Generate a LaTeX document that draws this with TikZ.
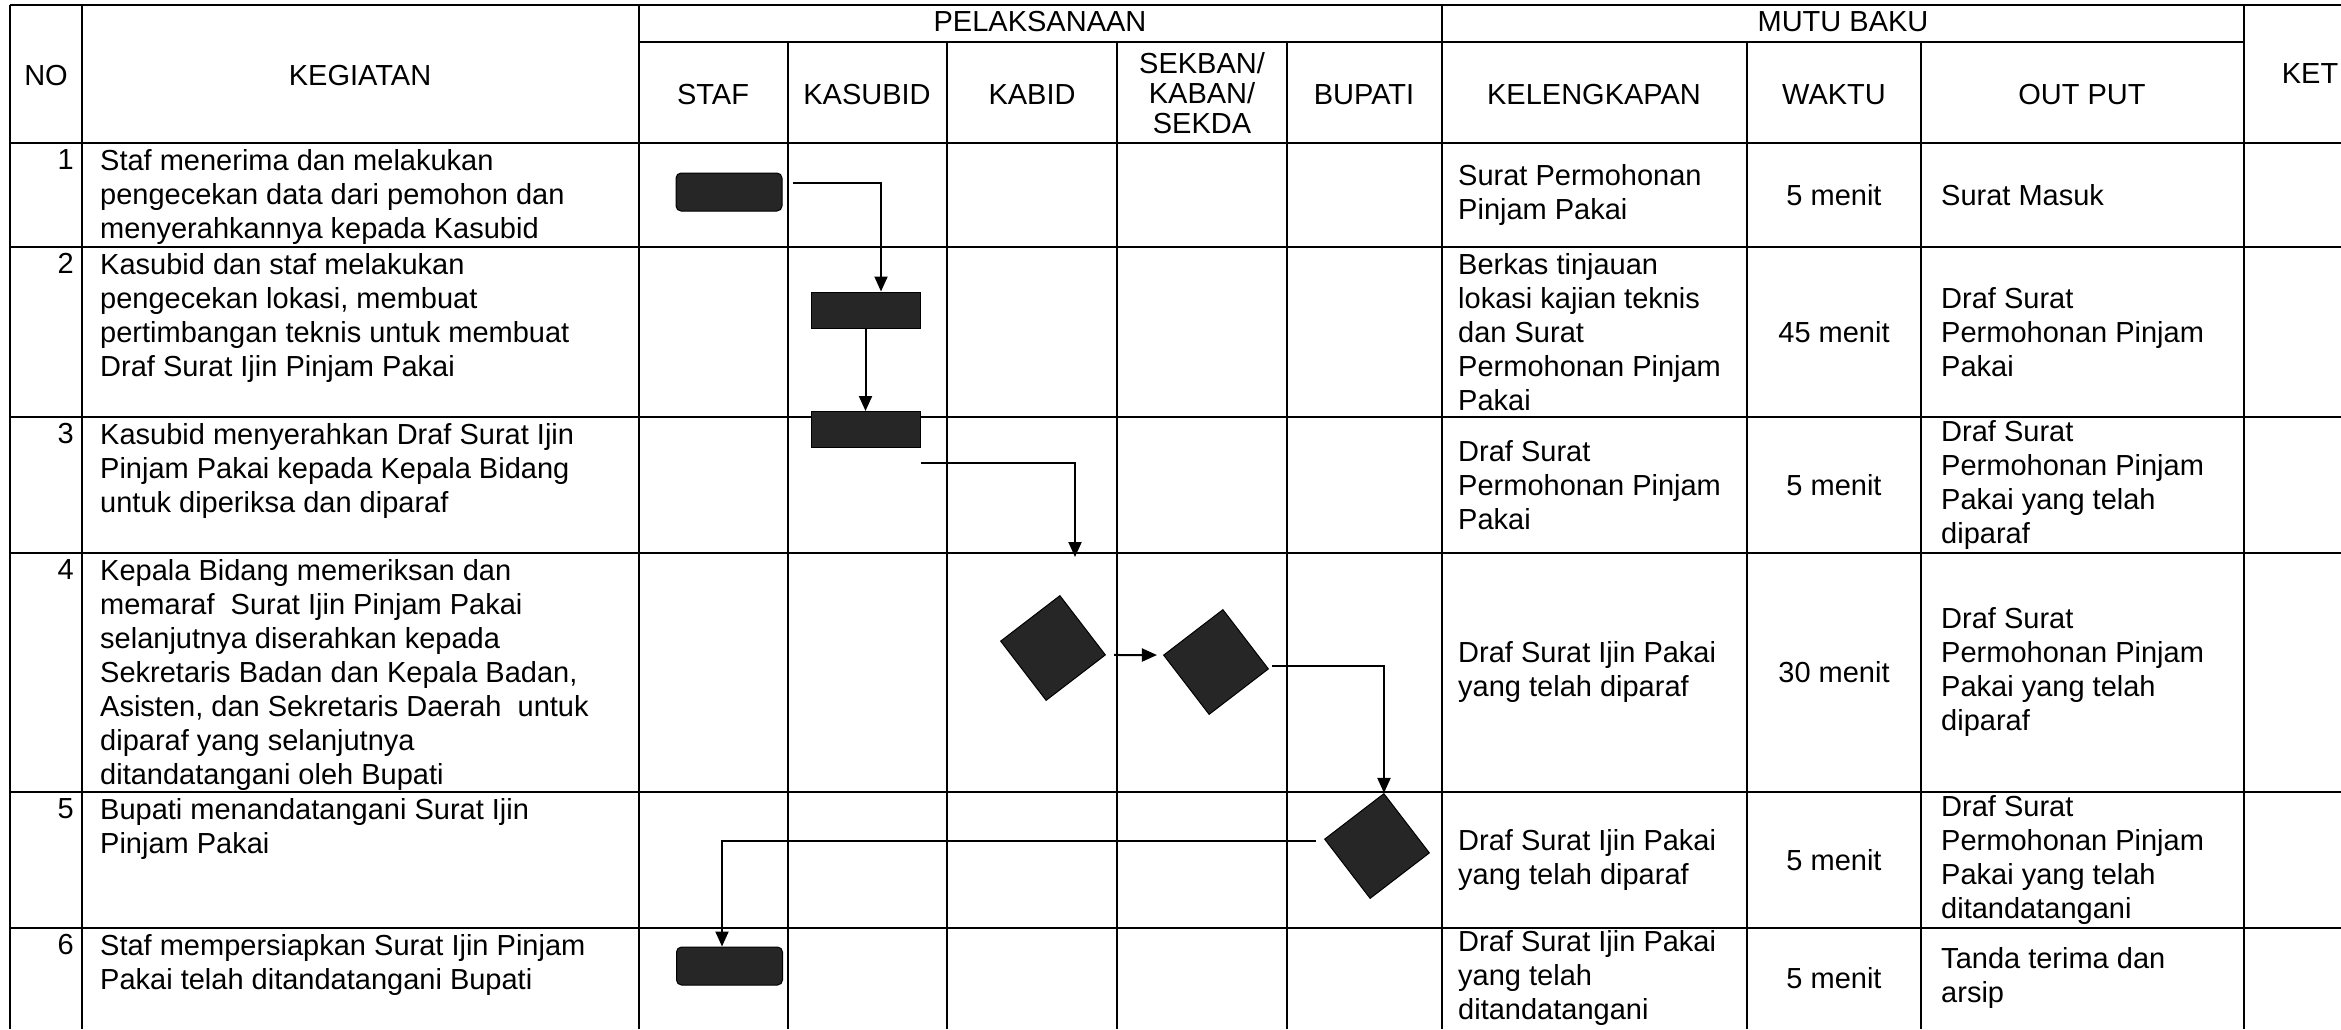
\documentclass[tikz,border=0pt]{standalone}
\usepackage{fontspec}
\setmainfont{Liberation Sans}
\usetikzlibrary{arrows.meta,shapes.geometric,calc}
\begin{document}
\begin{tikzpicture}[x=1pt,y=-1pt,
  hl/.style={line width=2.8pt},
  vl/.style={line width=2.1pt},
  txt/.style={inner sep=0pt,font=\fontsize{29}{34}\selectfont,align=left},
  ctxt/.style={inner sep=0pt,font=\fontsize{29}{34}\selectfont,align=center},
  rbox/.style={draw=black,fill=black!85,line width=1pt,minimum width=106pt,minimum height=38pt,rounded corners=5pt,inner sep=0pt},
  sbox/.style={draw=black,fill=black!85,line width=1pt,minimum width=109pt,minimum height=36pt,inner sep=0pt},
  dia/.style={draw=black,fill=black!85,line width=1pt,shape=diamond,aspect=1,minimum width=106pt,minimum height=106pt,inner sep=0pt,rotate=-7.5},
  arr/.style={line width=2pt,-{Triangle[length=15pt,width=13pt]}}]
\useasboundingbox (0,0) rectangle (2341,1029);
\fill[white] (0,0) rectangle (2341,1029);
% ---- grid ----
\draw[hl] (10,5) -- (2341,5);
\draw[hl] (639,42) -- (2244,42);
\foreach \y in {143,247,417,553,792,928} \draw[hl] (10,\y) -- (2341,\y);
\foreach \x in {10,82,639,1442,2244} \draw[vl] (\x,5) -- (\x,1029);
\foreach \x in {788,947,1117,1287,1747,1921} \draw[vl] (\x,42) -- (\x,1029);
% ---- header ----
\node[ctxt] (hno) at (46,76) {NO};
\node[ctxt] (hkeg) at (360,76) {KEGIATAN};
\node[ctxt] (hpel) at (1040,22) {PELAKSANAAN};
\node[ctxt] (hstaf) at (713,95) {STAF};
\node[ctxt] (hkasubid) at (867,95) {KASUBID};
\node[ctxt] (hkabid) at (1032,95) {KABID};
\node[ctxt,font=\fontsize{29}{30}\selectfont] (hsek) at (1202,93) {SEKBAN/\\KABAN/\\SEKDA};
\node[ctxt] (hbup) at (1364,95) {BUPATI};
\node[ctxt] (hmutu) at (1843,22) {MUTU BAKU};
\node[ctxt] (hkel) at (1594,95) {KELENGKAPAN};
\node[ctxt] (hwak) at (1834,95) {WAKTU};
\node[ctxt] (hout) at (2082,95) {OUT PUT};
\node[ctxt] (hket) at (2310,74) {KET};
% ---- numbers ----
\node[txt,anchor=north east] (n1) at (74,149.5) {1};
\node[txt,anchor=north east] (n2) at (74,253.5) {2};
\node[txt,anchor=north east] (n3) at (74,423.5) {3};
\node[txt,anchor=north east] (n4) at (74,559.5) {4};
\node[txt,anchor=north east] (n5) at (74,798.5) {5};
\node[txt,anchor=north east] (n6) at (74,934.5) {6};
% ---- kegiatan ----
\node[txt,anchor=north west] (k1) at (100,149) {Staf menerima dan melakukan\\pengecekan data dari pemohon dan\\menyerahkannya kepada Kasubid};
\node[txt,anchor=north west] (k2) at (100,253) {Kasubid dan staf melakukan\\pengecekan lokasi, membuat\\pertimbangan teknis untuk membuat\\Draf Surat Ijin Pinjam Pakai};
\node[txt,anchor=north west] (k3) at (100,423) {Kasubid menyerahkan Draf Surat Ijin\\Pinjam Pakai kepada Kepala Bidang\\untuk diperiksa dan diparaf};
\node[txt,anchor=north west] (k4) at (100,559) {Kepala Bidang memeriksan dan\\memaraf~ Surat Ijin Pinjam Pakai\\selanjutnya diserahkan kepada\\Sekretaris Badan dan Kepala Badan,\\Asisten, dan Sekretaris Daerah~ untuk\\diparaf yang selanjutnya\\ditandatangani oleh Bupati};
\node[txt,anchor=north west] (k5) at (100,798) {Bupati menandatangani Surat Ijin\\Pinjam Pakai};
\node[txt,anchor=north west] (k6) at (100,934) {Staf mempersiapkan Surat Ijin Pinjam\\Pakai telah ditandatangani Bupati};
% ---- kelengkapan ----
\node[txt,anchor=west] (l1) at (1458,195) {Surat Permohonan\\Pinjam Pakai};
\node[txt,anchor=west] (l2) at (1458,332) {Berkas tinjauan\\lokasi kajian teknis\\dan Surat\\Permohonan Pinjam\\Pakai};
\node[txt,anchor=west] (l3) at (1458,485) {Draf Surat\\Permohonan Pinjam\\Pakai};
\node[txt,anchor=west] (l4) at (1458,672) {Draf Surat Ijin Pakai\\yang telah diparaf};
\node[txt,anchor=west] (l5) at (1458,860) {Draf Surat Ijin Pakai\\yang telah diparaf};
\node[txt,anchor=west] (l6) at (1458,978) {Draf Surat Ijin Pakai\\yang telah\\ditandatangani};
% ---- waktu ----
\node[ctxt] (w1) at (1834,195) {5 menit};
\node[ctxt] (w2) at (1834,332) {45 menit};
\node[ctxt] (w3) at (1834,485) {5 menit};
\node[ctxt] (w4) at (1834,672) {30 menit};
\node[ctxt] (w5) at (1834,860) {5 menit};
\node[ctxt] (w6) at (1834,978) {5 menit};
% ---- output ----
\node[txt,anchor=west] (o1) at (1941,195) {Surat Masuk};
\node[txt,anchor=west] (o2) at (1941,332) {Draf Surat\\Permohonan Pinjam\\Pakai};
\node[txt,anchor=west] (o3) at (1941,485) {Draf Surat\\Permohonan Pinjam\\Pakai yang telah\\diparaf};
\node[txt,anchor=west] (o4) at (1941,672) {Draf Surat\\Permohonan Pinjam\\Pakai yang telah\\diparaf};
\node[txt,anchor=west] (o5) at (1941,860) {Draf Surat\\Permohonan Pinjam\\Pakai yang telah\\ditandatangani};
\node[txt,anchor=west] (o6) at (1941,978) {Tanda terima dan\\arsip};
% ---- flow shapes ----
\node[rbox] (b1) at (729,192) {};
\node[sbox] (b2) at (865.5,310) {};
\node[sbox] (b3) at (865.5,429.5) {};
\node[rbox] (b6) at (729.5,966) {};
\node[dia] (d1) at (1053,648) {};
\node[dia] (d2) at (1216,662) {};
\node[dia] (d3) at (1377,846) {};
\coordinate (c3) at (1075,557);
% ---- connectors ----
\draw[arr] ($(b1.east)+(10,-9)$) -| ($(b2.north)+(15.5,0)$);
\draw[arr] (b2.south) -- (b3.north);
\draw[arr] ($(b3.south east)+(0,15)$) -| (c3);
\draw[arr] ($(d1.east)+(8,0)$) -- ($(d2.west)+(-6,0)$);
\draw[arr] ($(d2.east)+(3,-3)$) -| (d3.north);
\draw[arr] ($(d3.west)+(-8,2)$) -| ($(b6.north)+(-7.5,0)$);
\end{tikzpicture}
\end{document}
